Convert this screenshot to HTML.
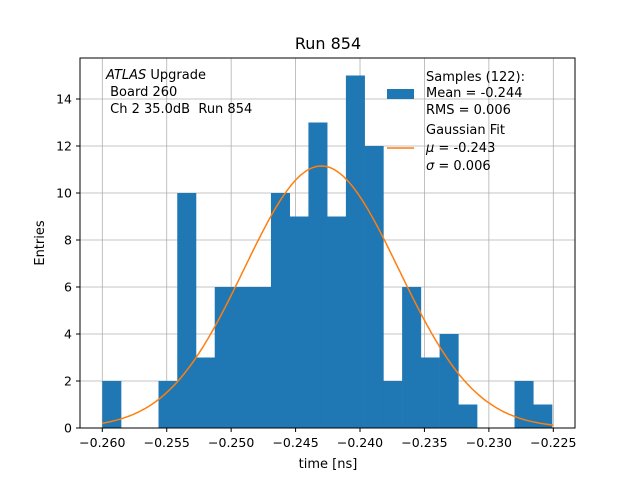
<!DOCTYPE html>
<html><head><meta charset="utf-8"><style>
body{margin:0;background:#fff;font-family:"Liberation Sans","DejaVu Sans",sans-serif}
svg text{font-family:"DejaVu Sans","Liberation Sans",sans-serif}
</style></head><body>
<svg id="c" width="640" height="480" xmlns="http://www.w3.org/2000/svg">
<rect width="640" height="480" fill="#fff"/>
<g id="grid"></g><g id="bars"></g><g id="curve"></g>
<rect x="80" y="58" width="495" height="370" fill="none" stroke="#000" stroke-width="1"/>
<g id="ticks"></g>
<text x="328" y="49" font-size="16" text-anchor="middle">Run 854</text>
<text x="328" y="468" font-size="13" text-anchor="middle">time [ns]</text>
<text transform="translate(44,243) rotate(-90)" font-size="13" text-anchor="middle">Entries</text>
<g font-size="13">
<text x="106" y="79"><tspan font-style="italic">ATLAS</tspan> Upgrade</text>
<text x="106" y="96">&#160;Board 260</text>
<text x="106" y="113">&#160;Ch 2 35.0dB&#160; Run 854</text>
</g>
<g font-size="13">
<rect x="387" y="89" width="27" height="10" fill="#1f77b4"/>
<text x="426" y="81">Samples (122):</text>
<text x="426" y="97">Mean = -0.244</text>
<text x="426" y="114">RMS = 0.006</text>
<line x1="387" y1="148" x2="414" y2="148" stroke="#ff7f0e" stroke-width="1.5"/>
<text x="426" y="134">Gaussian Fit</text>
<text x="426" y="152"><tspan font-style="italic">μ</tspan> = -0.243</text>
<text x="426" y="170"><tspan font-style="italic">σ</tspan> = 0.006</text>
</g>
</svg>
<script>
const counts=[2,0,0,2,10,3,6,6,6,10,9,13,9,15,12,2,6,3,4,1,0,0,2,1];
const xTicks=[-0.260,-0.255,-0.250,-0.245,-0.240,-0.235,-0.230,-0.225];
const yTicks=[0,2,4,6,8,10,12,14];
const binRange=[-0.260,-0.2251];
const fitParams=[11.15,-0.243,0.006];
const NS="http://www.w3.org/2000/svg";
const sx=v=>102.3+(v+0.260)/0.035*451;
const sy=v=>428-v*23.5;
function mk(t,a,p){const e=document.createElementNS(NS,t);for(const k in a)e.setAttribute(k,a[k]);p.appendChild(e);return e;}
const grid=document.getElementById('grid'),ticks=document.getElementById('ticks');
xTicks.forEach(v=>{const x=sx(v);
const g=mk('line',{x1:x,x2:x,y1:58,y2:428,stroke:'#b0b0b0','stroke-width':0.8},grid);


mk('line',{x1:x,x2:x,y1:428,y2:432,stroke:'#000'},ticks);
const t=mk('text',{x:x,y:447,'font-size':12.5,'text-anchor':'middle'},ticks);t.textContent=v.toFixed(3).replace('-','−');

});
yTicks.forEach(v=>{const y=sy(v);
const g=mk('line',{x1:80,x2:575,y1:y,y2:y,stroke:'#b0b0b0','stroke-width':0.8},grid);


mk('line',{x1:76,x2:80,y1:y,y2:y,stroke:'#000'},ticks);
const t=mk('text',{x:72,y:y+4.5,'font-size':12.5,'text-anchor':'end'},ticks);t.textContent=v;

});
const bars=document.getElementById('bars');const w=(binRange[1]-binRange[0])/counts.length;
counts.forEach((c,i)=>{if(!c)return;const x0=sx(binRange[0]+i*w),x1=sx(binRange[0]+(i+1)*w);
const r=mk('rect',{x:x0,y:sy(c),width:x1-x0+0.3,height:sy(0)-sy(c),fill:'#1f77b4'},bars);

});
let d='';for(let i=0;i<=200;i++){const v=-0.260+i*0.035/200;
const y=fitParams[0]*Math.exp(-0.5*((v-fitParams[1])/fitParams[2])**2);d+=(i?'L':'M')+sx(v).toFixed(1)+','+sy(y).toFixed(1);}
const p=mk('path',{d:d,fill:'none',stroke:'#ff7f0e','stroke-width':1.5},document.getElementById('curve'));


</script>
</body></html>
